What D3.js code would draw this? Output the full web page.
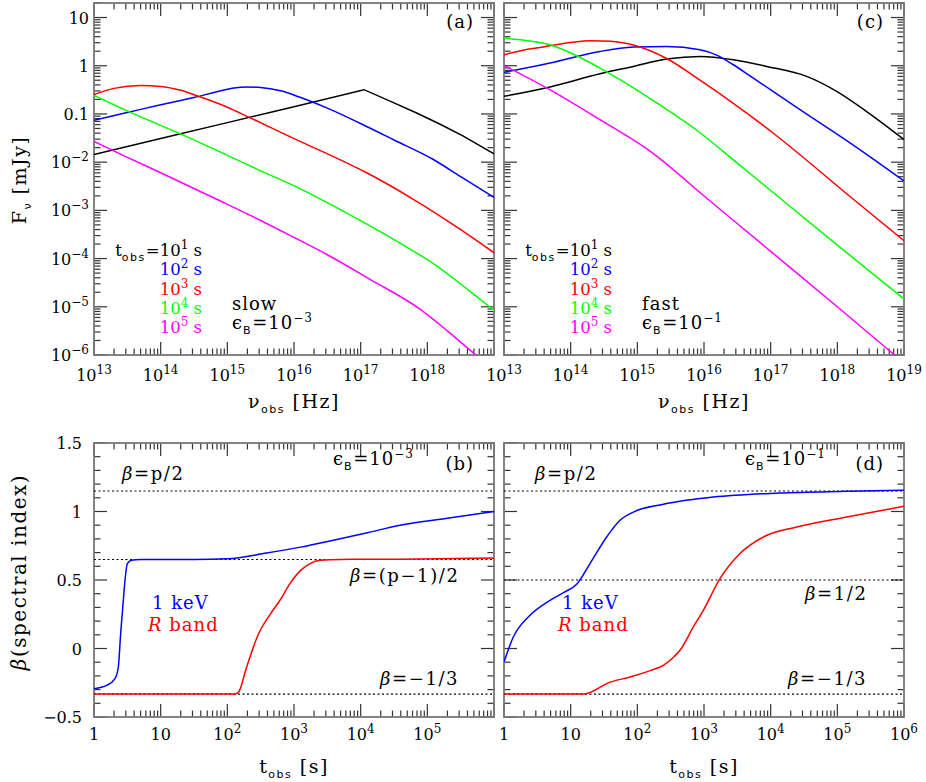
<!DOCTYPE html>
<html>
<head>
<meta charset="utf-8">
<script src="https://cdn.jsdelivr.net/npm/d3@7"></script>
<style>
  body { margin: 0; background: #fff; }
  text { font-family: "DejaVu Serif", serif; white-space: pre; }
</style>
</head>
<body>
<div id="chart"></div>
<script>
// --- DATA (log10 values) ---
// top panels: [log10 nu_obs (Hz), log10 F_nu (mJy)]
const slowT1 = [[13,-1.84],[14,-1.51],[15,-1.18],[16,-0.85],[17.05,-0.497],[17.5,-0.77],[17.84,-0.98],[18.2,-1.22],[18.54,-1.46],[19,-1.83]];
const slowT2 = [[13,-1.13],[13.5,-0.97],[14,-0.81],[14.5,-0.66],[14.9,-0.52],[15.1,-0.46],[15.3,-0.44],[15.5,-0.45],[15.8,-0.52],[16.1,-0.66],[16.5,-0.88],[17.09,-1.26],[17.5,-1.54],[18.09,-1.945],[18.5,-2.30],[19,-2.73]];
const slowT3 = [[13,-0.60],[13.3,-0.47],[13.7,-0.41],[14.0,-0.43],[14.3,-0.51],[14.6,-0.65],[15.0,-0.86],[15.34,-1.08],[16.09,-1.57],[16.6,-1.89],[17.09,-2.22],[17.79,-2.77],[18.49,-3.39],[19,-3.88]];
const slowT4 = [[13,-0.615],[13.6,-1.0],[14.34,-1.44],[15,-1.86],[15.5,-2.18],[16.09,-2.55],[16.39,-2.76],[17.1,-3.29],[17.64,-3.72],[18.14,-4.15],[18.64,-4.68],[19,-5.07]];
const slowT5 = [[13,-1.57],[13.5,-1.90],[14,-2.22],[14.84,-2.77],[15.5,-3.21],[16.0,-3.56],[16.5,-3.92],[17.14,-4.43],[17.89,-5.05],[18.3,-5.50],[18.71,-5.98],[18.8,-6.08]];

const fastT1 = [[13,-0.635],[13.69,-0.44],[14.44,-0.166],[14.94,-0.014],[15.44,0.138],[15.94,0.193],[16.44,0.124],[16.94,-0.014],[17.54,-0.22],[17.99,-0.53],[18.44,-0.95],[19,-1.53]];
const fastT2 = [[13,-0.138],[13.69,0.056],[14.44,0.296],[14.94,0.386],[15.44,0.40],[15.94,0.33],[16.19,0.22],[16.44,0.02],[16.69,-0.21],[17.44,-0.91],[18.19,-1.60],[19,-2.39]];
const fastT3 = [[13,0.228],[13.4,0.35],[13.69,0.414],[14.0,0.48],[14.3,0.52],[14.6,0.51],[14.94,0.43],[15.44,0.15],[15.94,-0.30],[16.44,-0.78],[17.04,-1.40],[18.24,-2.77],[19,-3.63]];
const fastT4 = [[13,0.573],[13.3,0.53],[13.69,0.435],[14.09,0.207],[14.44,-0.05],[14.74,-0.29],[15.19,-0.68],[15.94,-1.39],[16.5,-2.02],[17.16,-2.77],[18,-3.72],[19,-4.84]];
const fastT5 = [[13,0.006],[13.64,-0.46],[14.44,-1.12],[15.19,-1.77],[16.06,-2.77],[17,-3.85],[18,-5.0],[18.84,-5.98],[18.9,-6.05]];

// bottom panels: [log10 t_obs (s), beta]
const slowKeV = [[0,-0.293],[0.19,-0.269],[0.315,-0.22],[0.365,-0.135],[0.40,0.109],[0.44,0.352],[0.465,0.498],[0.50,0.62],[0.56,0.645],[0.7,0.65],[1.5,0.65],[2.0,0.655],[2.59,0.697],[3.1,0.74],[3.59,0.79],[4.1,0.845],[4.59,0.90],[5.3,0.95],[6,1.0]];
const slowR = [[0,-0.333],[2.09,-0.333],[2.13,-0.33],[2.17,-0.318],[2.29,-0.135],[2.47,0.109],[2.65,0.255],[2.79,0.352],[2.94,0.474],[3.1,0.57],[3.24,0.62],[3.39,0.644],[3.7,0.65],[4.59,0.652],[6,0.66]];
const fastKeV = [[0,-0.098],[0.14,0.084],[0.39,0.242],[0.69,0.352],[0.9,0.41],[1.09,0.469],[1.29,0.62],[1.54,0.814],[1.74,0.936],[1.94,0.996],[2.39,1.053],[3.14,1.106],[4.14,1.135],[5.14,1.147],[6,1.155]];
const fastR = [[0,-0.333],[1.19,-0.333],[1.27,-0.325],[1.34,-0.31],[1.54,-0.256],[1.89,-0.208],[2.2,-0.16],[2.39,-0.123],[2.55,-0.06],[2.64,-0.013],[2.84,0.157],[2.99,0.279],[3.24,0.51],[3.54,0.693],[3.89,0.814],[4.39,0.887],[5.14,0.96],[6,1.038]];

const p = 2.3;
const betaLines = [p / 2, (p - 1) / 2, -1 / 3];      // panel (b)
const betaLinesFast = [p / 2, 1 / 2, -1 / 3];        // panel (d)

const legendExp = ["1", "2", "3", "4", "5"];
const colors = ["#000000", "#0000ff", "#ff0000", "#00ff00", "#ff00ff"];
const nuLabelExp = ["13", "14", "15", "16", "17", "18", "19"];
const fLabels = [[10, "10"], [1, "1"], [0.1, "0.1"], [1e-2, "10", "−2"], [1e-3, "10", "−3"], [1e-4, "10", "−4"], [1e-5, "10", "−5"], [1e-6, "10", "−6"]];
const tLabels = [[1, "1"], [10, "10"], [1e2, "10", "2"], [1e3, "10", "3"], [1e4, "10", "4"], [1e5, "10", "5"], [1e6, "10", "6"]];
const betaLabels = [1.5, 1, 0.5, 0, -0.5];

// --- SETUP ---
const W = 926, H = 782;
const svg = d3.select("#chart").append("svg").attr("width", W).attr("height", H);
svg.append("rect").attr("width", W).attr("height", H).attr("fill", "#fff");

const top0 = 3, top1 = 355, bot0 = 443, bot1 = 717;
const lefts = [94, 504], PW = 400;

const yF = d3.scaleLog().domain([1e-6, 20]).range([top1, top0]);
const yB = d3.scaleLinear().domain([-0.5, 1.5]).range([bot1, bot0]);

// text with sub/superscripts: parts = [[str, kind]] kind: 'sup' | 'sub' | 'it' | undefined
function rich(g, x, y, parts, opt = {}) {
    const size = opt.size || 16;
    const t = g.append("text").attr("x", x).attr("y", y)
        .attr("text-anchor", opt.anchor || "start")
        .style("font-size", size + "px")
        .style("letter-spacing", (opt.ls || 0) + "px")
        .attr("fill", opt.fill || "#000");
    if (opt.rotate) t.attr("transform", `rotate(-90,${x},${y})`);
    let shift = 0;
    parts.forEach(([s, kind]) => {
        const ts = t.append("tspan").text(s);
        const target = kind === "sup" ? -7 : kind === "sub" ? 5 : 0;
        ts.attr("dy", target - shift);
        shift = target;
        if (kind === "sup") ts.style("font-size", "12px");
        if (kind === "sub") ts.style("font-size", "11px").style("font-family", "DejaVu Sans").style("letter-spacing", "1.5px");
        if (kind === "it") ts.style("font-style", "italic");
    });
    return t;
}

function logTicks(lo, hi) {
    const out = [];
    for (let d = Math.floor(Math.log10(lo)); d <= Math.ceil(Math.log10(hi)); d++) {
        for (let m = 1; m <= 9; m++) {
            const v = m * Math.pow(10, d);
            if (v >= lo * 0.999 && v <= hi * 1.001) out.push({ v, major: m === 1 });
        }
    }
    return out;
}

function frame(g, x, y0, y1, xScale, xTicks, yScale, yTicks, id) {
    const x1 = x + PW;
    g.append("clipPath").attr("id", id).append("rect")
        .attr("x", x).attr("y", y0).attr("width", PW).attr("height", y1 - y0);
    const tk = g.append("g").attr("stroke", "#333").attr("stroke-width", 1.2);
    xTicks.forEach(t => {
        const px = xScale(t.v), len = t.major ? 13 : 6.5;
        tk.append("line").attr("x1", px).attr("x2", px).attr("y1", y1).attr("y2", y1 - len);
        tk.append("line").attr("x1", px).attr("x2", px).attr("y1", y0).attr("y2", y0 + len);
    });
    yTicks.forEach(t => {
        const py = yScale(t.v), len = t.major ? 13 : 6.5;
        tk.append("line").attr("x1", x).attr("x2", x + len).attr("y1", py).attr("y2", py);
        tk.append("line").attr("x1", x1).attr("x2", x1 - len).attr("y1", py).attr("y2", py);
    });
    g.append("rect").attr("x", x).attr("y", y0).attr("width", PW).attr("height", y1 - y0)
        .attr("fill", "none").attr("stroke", "#777").attr("stroke-width", 1.8);
}

const fTicks = logTicks(1e-6, 20);
const betaTicks = d3.range(-5, 16).map(i => ({ v: i / 10, major: i % 5 === 0 }));
const LBL = { size: 18, ls: 1 };

// --- TOP PANELS ---
[[slowT1, slowT2, slowT3, slowT4, slowT5], [fastT1, fastT2, fastT3, fastT4, fastT5]].forEach((curves, i) => {
    const L = lefts[i];
    const x = d3.scaleLog().domain([1e13, 1e19]).range([L, L + PW]);
    const g = svg.append("g");
    const id = "clipTop" + i;
    frame(g, L, top0, top1, x, logTicks(1e13, 1e19), yF, fTicks, id);

    const line = d3.line().x(d => x(Math.pow(10, d[0]))).y(d => yF(Math.pow(10, d[1])));
    curves.forEach((c, k) => {
        line.curve(i === 0 && k === 0 ? d3.curveLinear : d3.curveMonotoneX);
        g.append("path").attr("d", line(c)).attr("fill", "none")
            .attr("stroke", colors[k]).attr("stroke-width", 1.5).attr("clip-path", `url(#${id})`);
    });

    // x tick labels
    nuLabelExp.forEach(e => {
        if (i === 0 && e === "19") return;
        rich(g, x(Math.pow(10, +e)), 381, [["10"], [e, "sup"]], { anchor: "middle" });
    });
    rich(g, L + PW / 2, 408, [["ν"], ["obs", "sub"], [" [Hz]"]], { anchor: "middle", size: 19, ls: 1.5 });

    // legend
    legendExp.forEach((e, k) => {
        const parts = k === 0 ? [["t"], ["obs", "sub"], ["=10"], [e, "sup"], [" s"]] : [["10"], [e, "sup"], [" s"]];
        rich(g, L + 108, 256 + k * 19.3, parts, { anchor: "end", fill: colors[k], size: 16.5 });
    });
    rich(g, L + 138, 310, [[i === 0 ? "slow" : "fast"]], LBL);
    rich(g, L + 138, 329, [["ϵ"], ["B", "sub"], ["=10"], [i === 0 ? "−3" : "−1", "sup"]], LBL);
    rich(g, L + 380, 28, [[i === 0 ? "(a)" : "(c)"]], { ...LBL, anchor: "end" });
});

// y labels for top-left panel
const gy = svg.append("g");
fLabels.forEach(([v, a, b]) => {
    const parts = b ? [[a], [b, "sup"]] : [[a]];
    rich(gy, 89, yF(v) + 6, parts, { anchor: "end" });
});
rich(gy, 26, 180, [["F"], ["ν", "sub"], [" [mJy]"]], { anchor: "middle", rotate: true, size: 19, ls: 1.5 });

// --- BOTTOM PANELS ---
[[slowKeV, slowR, betaLines], [fastKeV, fastR, betaLinesFast]].forEach(([keV, rb, lines], i) => {
    const L = lefts[i];
    const x = d3.scaleLog().domain([1, 1e6]).range([L, L + PW]);
    const g = svg.append("g");
    const id = "clipBot" + i;
    frame(g, L, bot0, bot1, x, logTicks(1, 1e6), yB, betaTicks, id);

    lines.forEach(b => {
        g.append("line").attr("x1", L).attr("x2", L + PW).attr("y1", yB(b)).attr("y2", yB(b))
            .attr("stroke", "#000").attr("stroke-width", 1.1).attr("stroke-dasharray", "2,2.5");
    });

    const line = d3.line().x(d => x(Math.pow(10, d[0]))).y(d => yB(d[1])).curve(d3.curveMonotoneX);
    [[keV, "#0000ff"], [rb, "#ff0000"]].forEach(([c, col]) => {
        g.append("path").attr("d", line(c)).attr("fill", "none")
            .attr("stroke", col).attr("stroke-width", 1.5).attr("clip-path", `url(#${id})`);
    });

    tLabels.forEach(([v, a, b]) => {
        if (i === 0 && v === 1e6) return;
        const parts = b ? [[a], [b, "sup"]] : [[a]];
        rich(g, x(v), 740, parts, { anchor: "middle" });
    });
    rich(g, L + PW / 2, 773, [["t"], ["obs", "sub"], [" [s]"]], { anchor: "middle", size: 19, ls: 1.5 });

    const BL = { size: 18, ls: 1.6 };
    rich(g, L + 380, 470, [[i === 0 ? "(b)" : "(d)"]], { ...LBL, anchor: "end" });
    rich(g, L + (i === 0 ? 239 : 241), 465, [["ϵ"], ["B", "sub"], ["=10"], [i === 0 ? "−3" : "−1", "sup"]], LBL);
    rich(g, L + 28 + (i === 0 ? 0 : 3), 480, [["β", "it"], ["=p/2"]], BL);
    if (i === 0) rich(g, L + 256, 582, [["β", "it"], ["=(p−1)/2"]], BL);
    else rich(g, L + 301, 600, [["β", "it"], ["=1/2"]], BL);
    rich(g, L + (i === 0 ? 286 : 284), 685, [["β", "it"], ["=−1/3"]], BL);
    rich(g, L + 58, 609, [["1 keV"]], { ...LBL, fill: "#0000ff" });
    rich(g, L + 54, 631, [["R", "it"], [" band"]], { ...LBL, fill: "#ff0000" });
});

betaLabels.forEach(v => {
    rich(gy, 82, yB(v) + 6, [[v < 0 ? "−" + Math.abs(v) : String(v)]], { anchor: "end" });
});
rich(gy, 26, 572, [["β", "it"], ["(spectral index)"]], { anchor: "middle", rotate: true, size: 20, ls: 1.5 });
</script>
</body>
</html>
